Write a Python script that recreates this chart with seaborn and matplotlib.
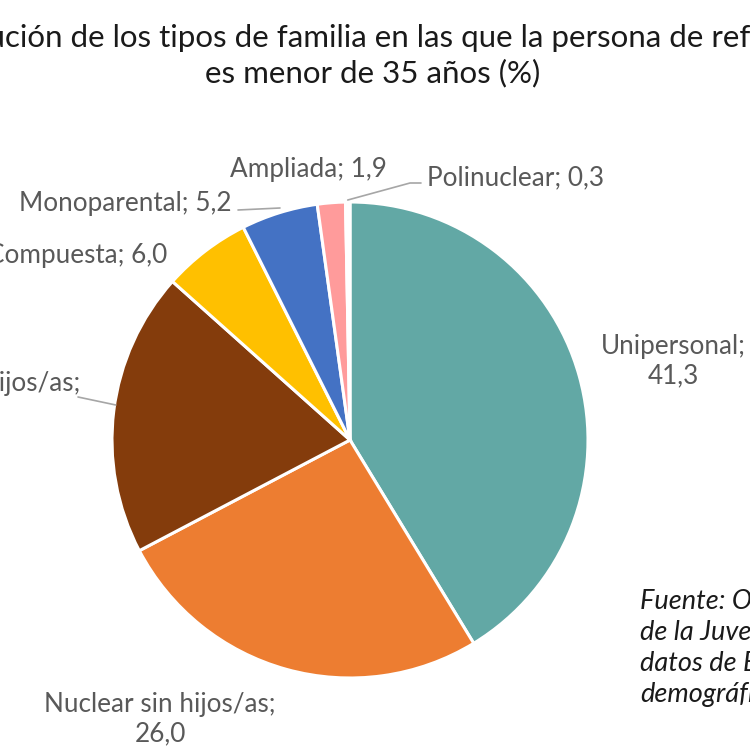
import numpy as np
import matplotlib.pyplot as plt
import seaborn as sns

# data (% of households where the reference person is under 35)
tipos = ["Unipersonal", "Nuclear sin hijos/as", "Nuclear con hijos/as",
         "Compuesta", "Monoparental", "Ampliada", "Polinuclear"]
valores = [41.3, 26.0, 19.3, 6.0, 5.2, 1.9, 0.3]
colores = ["#62a8a5", "#ed7d31", "#843c0c", "#ffc000", "#4472c4", "#ff9b9b", "#ffffff"]

titulo = ("Distribución de los tipos de familia en las que la persona de referencia\n"
          "es menor de 35 años (%)")
fuente = ("Fuente: Observatorio\n"
          "de la Juventud en España a partir de\n"
          "datos de Estadística de Hogares\n"
          "demográficos")

sns.set_theme(style="white")
plt.rcParams['font.family'] = ['Lato', 'DejaVu Sans']

fig = plt.figure(figsize=(7.5, 7.5), dpi=100)
ax = fig.add_axes([0, 0, 1, 1])
ax.set_aspect('equal')
ax.axis('off')

cx, cy, r = 350, 310, 238
wedges, _ = ax.pie(valores, colors=sns.color_palette(colores), startangle=90,
                   counterclock=False, center=(cx, cy), radius=r,
                   wedgeprops=dict(edgecolor='white', linewidth=2.2))
ax.set_xlim(0, 750)
ax.set_ylim(0, 750)


def fmt(v):
    return f"{v:.1f}".replace('.', ',')


def edge_point(w):
    ang = np.deg2rad((w.theta1 + w.theta2) / 2)
    return cx + r * np.cos(ang), cy + r * np.sin(ang)


lab_col = "#595959"
fs = 18.8

# label positions in pixel space (y measured from top)
ax.text(673, 750 - 361, f"{tipos[0]};\n{fmt(valores[0])}", ha='center', va='center',
        multialignment='center', fontsize=fs, color=lab_col, linespacing=1.2)
ax.text(160, 750 - 719, f"{tipos[1]};\n{fmt(valores[1])}", ha='center', va='center',
        multialignment='center', fontsize=fs, color=lab_col, linespacing=1.2)
ax.text(80, 750 - 371, f"{tipos[2]};\n{fmt(valores[2])}", ha='right', va='top',
        multialignment='center', fontsize=fs, color=lab_col, linespacing=1.2)
ax.text(167, 750 - 255, f"{tipos[3]}; {fmt(valores[3])}", ha='right', va='center',
        fontsize=fs, color=lab_col)
ax.text(232, 750 - 203, f"{tipos[4]}; {fmt(valores[4])}", ha='right', va='center',
        fontsize=fs, color=lab_col)
ax.text(387, 750 - 170, f"{tipos[5]}; {fmt(valores[5])}", ha='right', va='center',
        fontsize=fs, color=lab_col)
ax.text(427, 750 - 178, f"{tipos[6]}; {fmt(valores[6])}", ha='left', va='center',
        fontsize=fs, color=lab_col)

# leader lines
line_kw = dict(color="#a6a6a6", linewidth=1.2)
px, py = edge_point(wedges[2])
ax.plot([78, px + 2], [750 - 397, 750 - 405], **line_kw)
ax.plot([238, 280], [750 - 210, 750 - 208], **line_kw)
px, py = edge_point(wedges[6])
ax.plot([421, 410, px], [750 - 183, 750 - 183, py + 2], **line_kw)

ax.text(373, 750 - 56, titulo, ha='center', va='center', multialignment='center',
        fontsize=22.5, color="#1a1a1a", linespacing=1.3)

ax.text(640, 750 - 648, fuente, ha='left', va='center', fontsize=19.5,
        style='italic', color="#1a1a1a", linespacing=1.3)

fig.savefig("out.png", dpi=100)
